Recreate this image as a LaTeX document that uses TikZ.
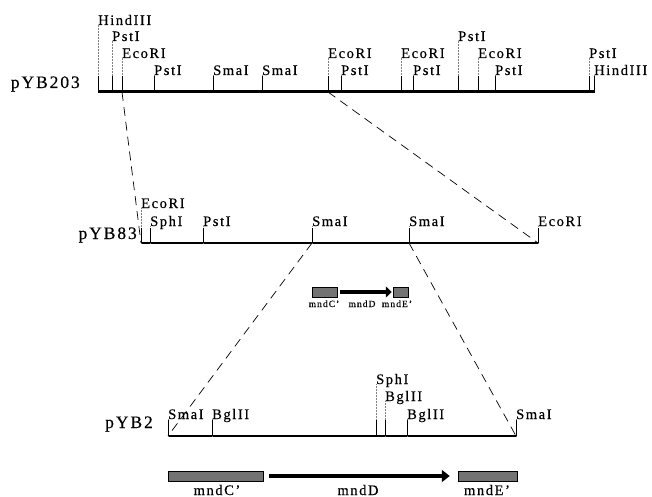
\documentclass[tikz,border=0pt]{standalone}
\usepackage{fontspec}
\setmainfont{Liberation Serif}[LetterSpace=11, FakeBold=0.4]
\usetikzlibrary{arrows.meta}
\begin{document}
\begin{tikzpicture}[x=1pt, y=-1pt,
    site/.style={anchor=base west, inner sep=0pt, font=\fontsize{14.5}{16}\selectfont},
    plasmid/.style={anchor=base east, inner sep=0pt, font=\fontsize{17.5}{20}\selectfont},
    genename/.style={anchor=base, inner sep=0pt, font=\fontsize{14.5}{16}\selectfont},
    smallname/.style={anchor=base, inner sep=0pt, font=\fontsize{9.5}{11}\selectfont},
    tick/.style={densely dotted, gray, line width=0.5pt},
    map/.style={line width=2.3pt},
    zoomline/.style={dash pattern=on 9pt off 6pt, line width=0.7pt},
    gene/.style={draw, fill=black!55, line width=0.5pt, inner sep=0pt},
    orf/.style={line width=4.5pt, -{Triangle[length=8pt, width=12pt]}}]
    \useasboundingbox (0,0) rectangle (652,497) ;

    % pYB203
    \coordinate (a0) at (98,92) ;
    \coordinate (a1) at (595,92) ;
    \draw [map, line width=3pt] (a0) -- (a1) ;
    \node [plasmid] (pYB203) at (80,88) {pYB203} ;
    \node [site] (t1) at (98,25) {HindIII} ;
    \node [site] (t2) at (112,41) {PstI} ;
    \node [site] (t3) at (122,58) {EcoRI} ;
    \node [site] (t4) at (154,75) {PstI} ;
    \node [site] (t5) at (213,75) {SmaI} ;
    \node [site] (t6) at (262,75) {SmaI} ;
    \node [site] (t7) at (328,58) {EcoRI} ;
    \node [site] (t8) at (341,75) {PstI} ;
    \node [site] (t9) at (401,58) {EcoRI} ;
    \node [site] (t10) at (413,75) {PstI} ;
    \node [site] (t11) at (458,41) {PstI} ;
    \node [site] (t12) at (478,58) {EcoRI} ;
    \node [site] (t13) at (495,75) {PstI} ;
    \node [site] (t14) at (589,58) {PstI} ;
    \node [site] (t15) at (594,75) {HindIII} ;
    \foreach \i in {1,...,15} {
        \draw [tick] (t\i.base west) -- (t\i.base west |- a0) ;
        \draw [line width=0.6pt] (t\i.base west |- a0) -- ++(0,-16) ;
    }

    % pYB83
    \coordinate (b0) at (141,243) ;
    \coordinate (b1) at (538,243) ;
    \draw [map] (b0) -- (b1) ;
    \node [plasmid] (pYB83) at (137,239) {pYB83} ;
    \node [site] (m1) at (141,208) {EcoRI} ;
    \node [site] (m2) at (150,226) {SphI} ;
    \node [site] (m3) at (203,226) {PstI} ;
    \node [site] (m4) at (312,226) {SmaI} ;
    \node [site] (m5) at (409,226) {SmaI} ;
    \node [site] (m6) at (538,226) {EcoRI} ;
    \foreach \i in {1,...,6} {
        \draw [tick] (m\i.base west) -- (m\i.base west |- b0) ;
        \draw [line width=0.6pt] (m\i.base west |- b0) -- ++(0,-15) ;
    }

    % pYB2
    \coordinate (c0) at (168,436) ;
    \coordinate (c1) at (516,436) ;
    \draw [map] (c0) -- (c1) ;
    \node [plasmid] (pYB2) at (153,428) {pYB2} ;
    \node [site] (s1) at (168,419) {SmaI} ;
    \node [site] (s2) at (212,419) {BglII} ;
    \node [site] (s3) at (376,384) {SphI} ;
    \node [site] (s4) at (385,401) {BglII} ;
    \node [site] (s5) at (407,419) {BglII} ;
    \node [site] (s6) at (516,419) {SmaI} ;
    \foreach \i in {1,...,6} {
        \draw [tick] (s\i.base west) -- (s\i.base west |- c0) ;
        \draw [line width=0.6pt] (s\i.base west |- c0) -- ++(0,-16) ;
    }

    % enlargements
    \draw [zoomline] (t3.base west |- a0) -- (b0) ;
    \draw [zoomline] (t7.base west |- a0) -- (b1) ;
    \draw [zoomline] (m4.base west |- b0) -- (c0) ;
    \draw [zoomline] (m5.base west |- b0) -- (c1) ;

    % genes, small
    \node [gene, minimum width=25pt, minimum height=10pt] (cm) at (324.5,292) {} ;
    \node [gene, minimum width=15pt, minimum height=10pt] (em) at (400.5,292) {} ;
    \draw [orf, -{Triangle[length=6pt, width=11pt]}] ([xshift=3pt]cm.east) -- ([xshift=-1pt]em.west) ;
    \node [smallname] (lcm) at (324,307) {mndC'} ;
    \node [smallname] (ldm) at (362,307) {mndD} ;
    \node [smallname] (lem) at (397,307) {mndE'} ;

    % genes, large
    \node [gene, minimum width=95pt, minimum height=10pt] (cb) at (215.5,476) {} ;
    \node [gene, minimum width=59pt, minimum height=10pt] (eb) at (487.5,476) {} ;
    \draw [orf] ([xshift=6pt]cb.east) -- ([xshift=-8pt]eb.west) ;
    \node [genename] (lcb) at (217,495) {mndC'} ;
    \node [genename] (ldb) at (358,495) {mndD} ;
    \node [genename] (leb) at (487,495) {mndE'} ;
\end{tikzpicture}
\end{document}
